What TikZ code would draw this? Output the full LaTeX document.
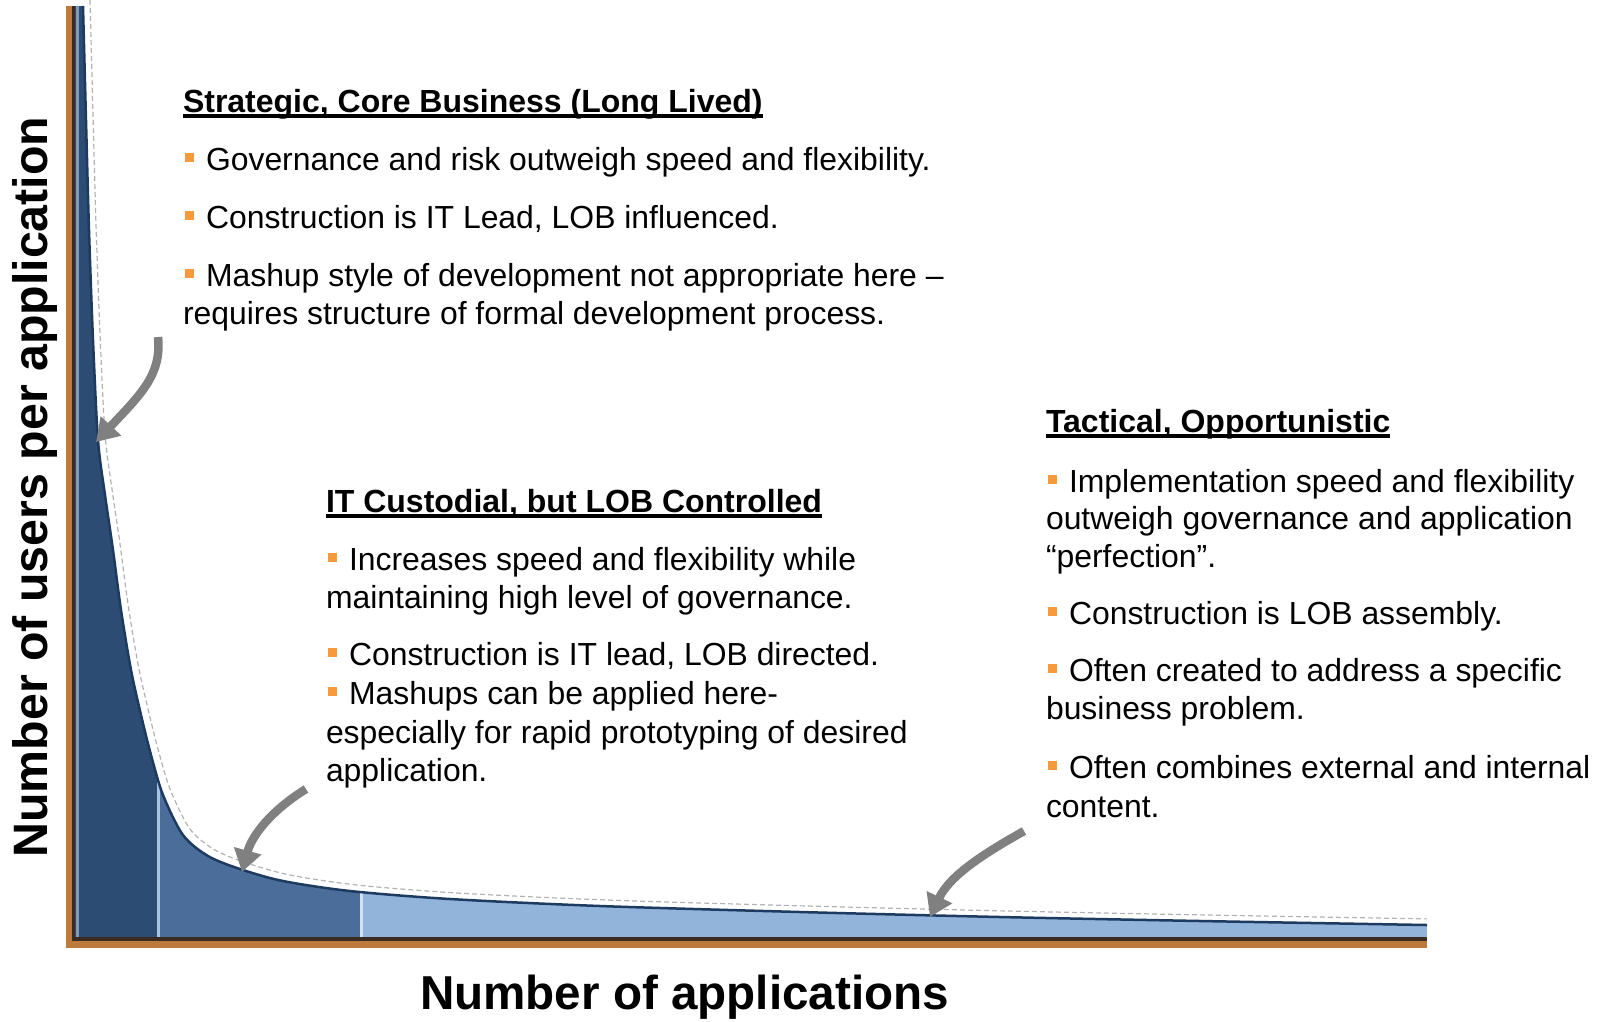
\documentclass[tikz,border=0pt]{standalone}
\usepackage{fontspec}
\setmainfont{Liberation Sans}
\usetikzlibrary{arrows.meta}
\definecolor{axisbrown}{HTML}{BC7B3C}
\definecolor{axisdark}{HTML}{3A2C20}
\definecolor{zonedark}{HTML}{2D4C73}
\definecolor{zonemid}{HTML}{4A6E99}
\definecolor{zonelight}{HTML}{92B4DB}
\definecolor{edgenavy}{HTML}{1D3A60}
\definecolor{bulletorange}{HTML}{F79A3B}
\definecolor{arrowgray}{HTML}{808080}
\newcommand\blt{\textcolor{bulletorange}{\rule[8pt]{9pt}{9pt}}\hspace{12pt}}
\def\curvepts{(83,6) (86,120) (89,230) (93,340) (98,440) (105,495) (113,550) (121,610) (131,670) (141,715) (151,755) (163,795) (183,835) (208,856) (240,869) (283,881) (350,891) (450,899) (600,906) (800,912) (1000,917) (1200,921) (1427,925)}
\begin{document}
\begin{tikzpicture}[x=1pt,y=-1pt,
  body/.style={font=\fontsize{31.9}{38}\selectfont, anchor=base west, inner sep=0pt, outer sep=0pt},
  ttl/.style={body, font=\fontsize{32}{38}\selectfont\bfseries},
  axlabel/.style={font=\fontsize{47.6}{50}\selectfont\bfseries, inner sep=0pt, outer sep=0pt},
  ulin/.style={line width=3.8pt},
  arr/.style={draw=arrowgray, line width=8.5pt, -{Triangle[width=27pt,length=22pt]}}]
\useasboundingbox (0,0) rectangle (1605,1021);
% chart area
\begin{scope}
  \clip (72,6) -- plot[smooth,tension=0.5] coordinates {\curvepts} -- (1427,940) -- (72,940) -- cycle;
  \fill[zonedark] (72,0) rectangle (157,940);
  \fill[zonemid] (157,0) rectangle (360,940);
  \fill[zonelight] (360,0) rectangle (1427,940);
  \fill[zonemid!70!white] (76,0) rectangle (79,940);
  \fill[zonelight!80!white] (157,0) rectangle (160,940);
  \fill[zonelight!40!white] (360,0) rectangle (363,940);
\end{scope}
\begin{scope}
  \clip (72,0) rectangle (1427,940);
  \draw[gray!60, line width=1.2pt, dash pattern=on 5pt off 3pt] [shift={(7,-6)}] plot[smooth,tension=0.5] coordinates {\curvepts};
  \draw[white, line width=4pt] [shift={(3.5,-3)}] plot[smooth,tension=0.5] coordinates {\curvepts};
\end{scope}
\draw[edgenavy, line width=2.5pt] plot[smooth,tension=0.5] coordinates {\curvepts};
% axes
\fill[axisdark] (72,6) rectangle (75,940);
\fill[axisdark] (72,937) rectangle (1427,941);
\fill[axisbrown] (66,6) rectangle (72,948);
\fill[axisbrown] (66,941) rectangle (1427,948);
% axis labels
\node[axlabel, font=\fontsize{48.3}{50}\selectfont\bfseries, rotate=90, anchor=base] (ylab) at (47,487) {Number of users per application};
\node[axlabel, anchor=base] (xlab) at (684.5,1009) {Number of applications};
% section 1
\node[ttl] (s1t) at (183,112) {Strategic, Core Business (Long Lived)};
\draw[ulin] ([yshift=-3.8pt]s1t.base west) -- ([yshift=-3.8pt]s1t.base east);
\node[body] (s1a) at (185,170) {\blt Governance and risk outweigh speed and flexibility.};
\node[body] (s1b) at (185,228) {\blt Construction is IT Lead, LOB influenced.};
\node[body] (s1c) at (185,286) {\blt Mashup style of development not appropriate here –};
\node[body] (s1d) at (183,324) {requires structure of formal development process.};
% section 2
\node[ttl] (s2t) at (326,512) {IT Custodial, but LOB Controlled};
\draw[ulin] ([yshift=-3.8pt]s2t.base west) -- ([yshift=-3.8pt]s2t.base east);
\node[body] (s2a) at (328,570) {\blt Increases speed and flexibility while};
\node[body] (s2b) at (326,608) {maintaining high level of governance.};
\node[body] (s2c) at (328,665) {\blt Construction is IT lead, LOB directed.};
\node[body] (s2d) at (328,704) {\blt Mashups can be applied here-};
\node[body] (s2e) at (326,743) {especially for rapid prototyping of desired};
\node[body] (s2f) at (326,781) {application.};
% section 3
\node[ttl] (s3t) at (1046,432) {Tactical, Opportunistic};
\draw[ulin] ([yshift=-3.8pt]s3t.base west) -- ([yshift=-3.8pt]s3t.base east);
\node[body] (s3a) at (1048,492) {\blt Implementation speed and flexibility};
\node[body] (s3b) at (1046,529) {outweigh governance and application};
\node[body] (s3c) at (1046,567) {“perfection”.};
\node[body] (s3d) at (1048,624) {\blt Construction is LOB assembly.};
\node[body] (s3e) at (1048,681) {\blt Often created to address a specific};
\node[body] (s3f) at (1046,719) {business problem.};
\node[body] (s3g) at (1048,778) {\blt Often combines external and internal};
\node[body] (s3h) at (1046,817) {content.};
% arrows
\coordinate (a1s) at (158,337);
\coordinate (a1e) at (96,442);
\coordinate (a2s) at (306,789);
\coordinate (a2e) at (242,872);
\coordinate (a3s) at (1024,831);
\coordinate (a3e) at (930,917);
\draw[arr] (a1s) .. controls (162,375) and (140,395) .. (a1e);
\draw[arr] (a2s) .. controls (272,810) and (252,835) .. (a2e);
\draw[arr] (a3s) .. controls (985,853) and (950,875) .. (a3e);
\end{tikzpicture}
\end{document}
